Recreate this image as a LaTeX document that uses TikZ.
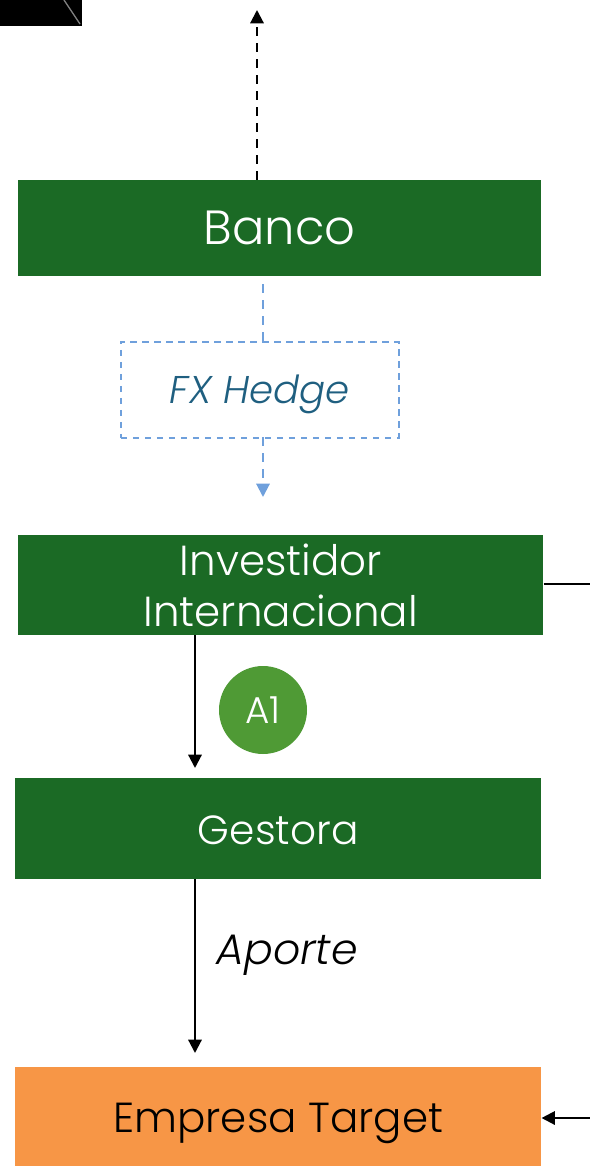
\documentclass[tikz,border=0pt]{standalone}
\usepackage{fontspec}
\setmainfont{Poppins}[UprightFont=* Light, ItalicFont=* Light Italic]
\usetikzlibrary{arrows.meta}
\definecolor{boxgreen}{HTML}{1B6A25}
\definecolor{circgreen}{HTML}{4F9A35}
\definecolor{tgtorange}{HTML}{F79646}
\definecolor{hedgeblue}{HTML}{6FA0DC}
\definecolor{hedgetext}{HTML}{1F5F80}
\newcommand{\lowerby}[2]{\raisebox{-#1}[\height][\depth]{#2}}
\tikzset{
  greenbox/.style={fill=boxgreen, text=white, inner sep=0pt, anchor=north west, align=center},
  flow/.style={draw=black, line width=1.6pt, -{Triangle[length=10pt,width=10pt]}},
  hedgeline/.style={draw=hedgeblue, line width=1.5pt, dash pattern=on 7pt off 5pt},
}
\begin{document}
\begin{tikzpicture}[x=0.75pt,y=-0.75pt]
\useasboundingbox (0,0) rectangle (589,1166);
% top-left fragment
\fill[black] (0,0) rectangle (82,26);
\draw[gray, line width=1pt] (64,0) -- (80,24);
% nodes
\node[greenbox, minimum width=523*0.75pt, minimum height=96*0.75pt, font=\fontsize{36}{40}\selectfont] (banco) at (18,180) {Banco};
\node[draw=hedgeblue, line width=1.2pt, dash pattern=on 5pt off 4pt, minimum width=278*0.75pt, minimum height=96*0.75pt, anchor=north west, inner sep=0pt, text=hedgetext, font=\fontsize{29}{32}\selectfont\itshape] (hedge) at (120,341) {\lowerby{3.5pt}{FX Hedge}};
\node[greenbox, minimum width=525*0.75pt, minimum height=100*0.75pt, font=\fontsize{31.5}{37}\selectfont] (inv) at (18,535) {Investidor\\[1pt]Internacional};
\node[greenbox, minimum width=526*0.75pt, minimum height=101*0.75pt, font=\fontsize{30.5}{34}\selectfont] (gest) at (15,778) {\lowerby{1.5pt}{Gestora}};
\node[fill=tgtorange, text=black, inner sep=0pt, anchor=north west, minimum width=526*0.75pt, minimum height=99*0.75pt, font=\fontsize{31.5}{34}\selectfont] (tgt) at (15,1067) {\lowerby{5pt}{Empresa Target}};
\node[circle, fill=circgreen, text=white, minimum size=88*0.75pt, inner sep=0pt, font=\fontsize{28}{32}\selectfont] (a1) at (263,710) {A1};
\node[font=\fontsize{32}{36}\selectfont\itshape, text=black] (aporte) at (287,955) {Aporte};
% connectors
\coordinate (topend) at (257,10);
\draw[line width=1.6pt, dash pattern=on 7pt off 5pt, -{Triangle[length=10pt,width=10pt]}] (257,180) -- (topend);
\draw[hedgeline] (263,284) -- (263,341);
\coordinate (hedgeend) at (263,497);
\draw[hedgeline, -{Triangle[length=10pt,width=10pt]}] (263,437) -- (hedgeend);
\draw[flow] (195,635) -- (195,768);
\draw[flow] (195,879) -- (195,1053);
\coordinate (rt) at (592,584);
\coordinate (rb) at (592,1118);
\draw[flow] (inv.east |- rt) -- (rt) -- (rb) -- (tgt.east |- rb);
\end{tikzpicture}
\end{document}
